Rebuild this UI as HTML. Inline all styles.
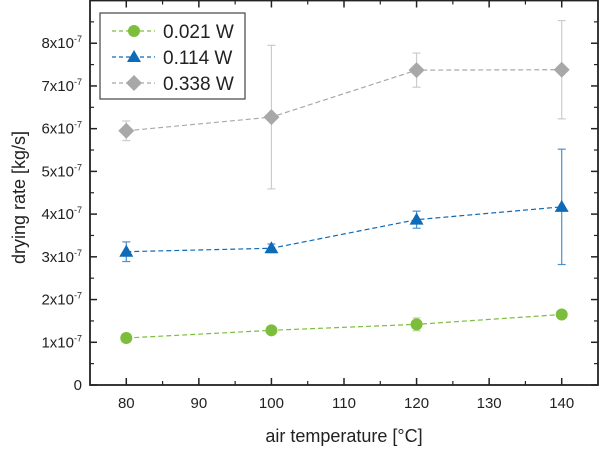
<!DOCTYPE html>
<html><head><meta charset="utf-8"><style>
body{margin:0;background:#fff}
svg{font-family:"Liberation Sans",Arial,sans-serif}
</style></head><body>
<svg id="chart" width="600" height="448"></svg>
<script>
const categories=[80,100,120,140];
const s1=[1.1,1.28,1.42,1.65], e1=[0.1,0.06,0.15,0.08];
const s2=[3.12,3.2,3.87,4.17], e2=[0.23,0.1,0.2,1.35];
const s3=[5.95,6.27,7.37,7.38], e3=[0.23,1.68,0.4,1.15];
const xTicks=[80,90,100,110,120,130,140];
const yTicks=[0,1,2,3,4,5,6,7,8];
const legendLabels=["0.021 W","0.114 W","0.338 W"];
const L=90,R=598,T=0.5,B=385;
const X=v=>L+(v-75)/70*(R-L);
const Y=v=>B-v/9*(B-T);
const svg=document.getElementById('chart');
const NS='http://www.w3.org/2000/svg';
function mk(tag,attrs,parent,name){const e=document.createElementNS(NS,tag);for(const k in attrs)e.setAttribute(k,attrs[k]);


(parent||svg).appendChild(e);return e;}
xTicks.forEach(t=>{const x=X(t);
mk('line',{x1:x,x2:x,y1:B,y2:B-7,stroke:'#222','stroke-width':1.5},null,'x-tick');
mk('line',{x1:x,x2:x,y1:T,y2:T+7,stroke:'#222','stroke-width':1.5},null,'x-tick-top');
const m=X(t+5);if(t<140){mk('line',{x1:m,x2:m,y1:B,y2:B-4,stroke:'#222','stroke-width':1.2},null,'x-minor-tick');mk('line',{x1:m,x2:m,y1:T,y2:T+4,stroke:'#222','stroke-width':1.2},null,'x-minor-tick-top');}
const tx=mk('text',{x:x,y:B+23,'text-anchor':'middle','font-size':15,fill:'#222'},null,'x-tick-label');tx.textContent=t;});
yTicks.forEach(t=>{const y=Y(t);
mk('line',{x1:L,x2:L+7,y1:y,y2:y,stroke:'#222','stroke-width':1.5},null,'y-tick');
mk('line',{x1:R,x2:R-7,y1:y,y2:y,stroke:'#222','stroke-width':1.5},null,'y-tick-right');
const m=Y(t+0.5);mk('line',{x1:L,x2:L+4,y1:m,y2:m,stroke:'#222','stroke-width':1.2},null,'y-minor-tick');mk('line',{x1:R,x2:R-4,y1:m,y2:m,stroke:'#222','stroke-width':1.2},null,'y-minor-tick-right');
const tx=mk('text',{x:L-8,y:y+5,'text-anchor':'end','font-size':15,fill:'#222'},null,'y-tick-label');
if(t===0)tx.textContent='0';else tx.innerHTML=t+'x10<tspan dy="-6" font-size="9">-7</tspan>';});
mk('rect',{x:L,y:T,width:R-L,height:B-T,fill:'none',stroke:'#222','stroke-width':1.8},null,'plot-frame');
const xl=mk('text',{x:(L+R)/2,y:442,'text-anchor':'middle','font-size':18,fill:'#222'},null,'x-axis-title');xl.textContent='air temperature [°C]';
const yl=mk('text',{x:0,y:0,transform:'translate(25,'+(B/2+5)+') rotate(-90)','text-anchor':'middle','font-size':18,fill:'#222'},null,'y-axis-title');yl.textContent='drying rate [kg/s]';
function marker(kind,x,y,col,parent){
if(kind==='c')mk('circle',{cx:x,cy:y,r:6,fill:col},parent,'marker-circle');
else if(kind==='t')mk('polygon',{points:`${x},${y-7} ${x+7},${y+5} ${x-7},${y+5}`,fill:col},parent,'marker-triangle');
else mk('polygon',{points:`${x},${y-8} ${x+8},${y} ${x},${y+8} ${x-8},${y}`,fill:col},parent,'marker-diamond');}
const series=[[s1,e1,'#7dbd3c','c','#b8dc98'],[s2,e2,'#0e6bb8','t','#4a90cc'],[s3,e3,'#a8a8a8','d','#cccccc']];
series.forEach((s,i)=>{const g=mk('g',{},null,'series-'+(i+1));
const pts=categories.map((c,j)=>X(c)+','+Y(s[0][j])).join(' ');
mk('polyline',{points:pts,fill:'none',stroke:s[2],'stroke-width':1.2,'stroke-dasharray':'5,3'},g,'series-line');
categories.forEach((c,j)=>{const x=X(c),y1=Y(s[0][j]+s[1][j]),y2=Y(s[0][j]-s[1][j]);
mk('line',{x1:x,x2:x,y1:y1,y2:y2,stroke:s[4],'stroke-width':1.2},g,'error-bar');
mk('line',{x1:x-4,x2:x+4,y1:y1,y2:y1,stroke:s[4],'stroke-width':1.2},g,'error-cap');
mk('line',{x1:x-4,x2:x+4,y1:y2,y2:y2,stroke:s[4],'stroke-width':1.2},g,'error-cap');
marker(s[3],x,Y(s[0][j]),s[2],g);});});
const lg=mk('g',{},null,'legend');
mk('rect',{x:100,y:13,width:145,height:86,fill:'#fff',stroke:'#444','stroke-width':1.2},lg,'legend-box');
legendLabels.forEach((l,i)=>{const y=31+i*26;const s=series[i];
mk('line',{x1:112,x2:155,y1:y,y2:y,stroke:s[2],'stroke-width':1.2,'stroke-dasharray':'4,3'},lg,'legend-line');
marker(s[3],134,y,s[2],lg);
const t=mk('text',{x:163,y:y+7,'font-size':19,fill:'#222'},lg,'legend-label');t.textContent=l;});
</script>
</body></html>
